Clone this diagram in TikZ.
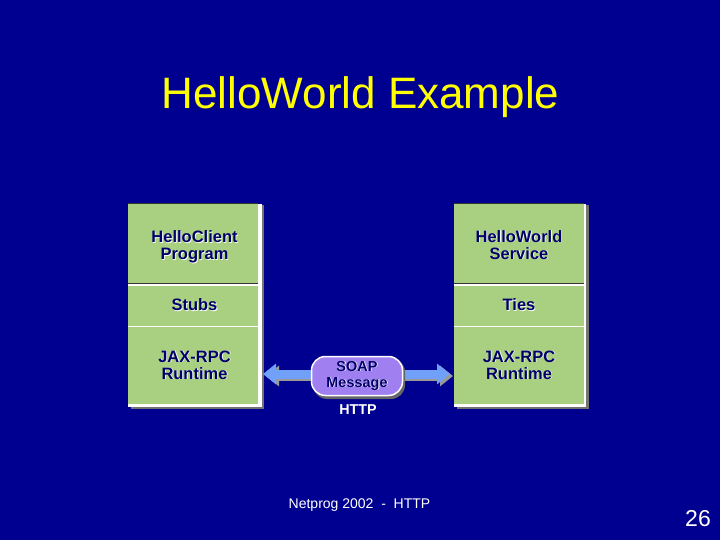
\documentclass[tikz,border=0pt]{standalone}
\usepackage{fontspec}
\setmainfont{Liberation Sans}
\usepackage{xcolor}
\usetikzlibrary{positioning}
\usetikzlibrary{calc}
\usetikzlibrary{arrows.meta}

\definecolor{slidebg}{HTML}{000090}
\definecolor{layergreen}{HTML}{A8D080}
\definecolor{msgpurple}{HTML}{A080F0}
\definecolor{arrowblue}{HTML}{70A0F8}
\definecolor{inknavy}{HTML}{000068}
\definecolor{titleyellow}{HTML}{FFFF00}

\newcommand{\glowtext}[1]{\rlap{\raisebox{-0.8pt}{\hspace{0.8pt}\textcolor{white}{#1}}}#1}
\newcommand{\glowtextl}[1]{\hspace*{3pt}\glowtext{#1}}

\tikzset{
layer/.style={fill=layergreen, text=inknavy, minimum width=130pt, inner sep=0pt, outer sep=0pt, align=center, font=\fontsize{16.5}{17}\selectfont\bfseries},
msgarrow/.style={draw=arrowblue, line width=9pt, -{Triangle[length=13pt, width=20pt]}},
msgshadow/.style={draw=black!40, line width=9pt, -{Triangle[length=13pt, width=20pt]}},
}

\begin{document}
\begin{tikzpicture}[x=1pt, y=-1pt]

\useasboundingbox[fill=slidebg] (0,0) rectangle (720,540);

\node (title) [text=titleyellow, font=\fontsize{44}{48}\selectfont] at (360.5,97) {HelloWorld Example};

% left stack
\fill [black!55] (131,205) rectangle (264,409);
\fill [white] (128,204) rectangle (261.5,406.5);
\node (client) [layer, anchor=north west, minimum height=79pt] at (128,203.5) {\rule{0pt}{20pt}\glowtextl{HelloClient}\\\glowtextl{Program}};
\node (stubs) [layer, minimum height=40pt, below=3pt of client] {\glowtextl{Stubs}};
\node (clientrt) [layer, minimum height=76.5pt, below=1.5pt of stubs] {\glowtextl{JAX-RPC}\\\glowtextl{Runtime}};
\draw [black!80, line width=1.5pt] (client.north west) -- (client.north east);
\draw [black!80, line width=1.5pt] ($(client.south west)+(0,0.8)$) -- ($(client.south east)+(0,0.8)$);

% right stack
\fill [black!55] (457,205) rectangle (589,409);
\fill [white] (454,204) rectangle (586,406.5);
\node (service) [layer, anchor=north west, minimum height=79pt] at (454,203.5) {\rule{0pt}{16pt}\glowtext{HelloWorld}\\\glowtext{Service}};
\node (ties) [layer, minimum height=40pt, below=3pt of service] {\glowtext{Ties}};
\node (servicert) [layer, minimum height=76.5pt, below=1.5pt of ties] {\glowtext{JAX-RPC}\\\glowtext{Runtime}};
\draw [black!80, line width=1.5pt] (service.north west) -- (service.north east);
\draw [black!80, line width=1.5pt] ($(service.south west)+(0,0.8)$) -- ($(service.south east)+(0,0.8)$);

% message
\coordinate (soapc) at (357,374);
\coordinate (tipl) at (263,374);
\coordinate (tipr) at (450,374);
\draw [msgshadow] ($(soapc)+(0,2)$) -- ($(tipl)+(3,2)$);
\draw [msgshadow] ($(soapc)+(0,2)$) -- ($(tipr)+(3,2)$);
\draw [msgarrow] (soapc) -- (tipl);
\draw [msgarrow] (soapc) -- (tipr);
\fill [black!60, rounded corners=14pt] (313,358) rectangle (405,399);
\node (soap) [fill=msgpurple, draw=white, line width=1.5pt, rounded corners=14pt, minimum width=91pt, minimum height=39pt, inner sep=0pt, align=center, text=inknavy, font=\fontsize{14.5}{16}\selectfont\bfseries] at (357,376) {\glowtext{SOAP}\\\glowtext{Message}};
\node (httplbl) [text=white, font=\fontsize{14.3}{15}\selectfont\bfseries] at (358,410) {HTTP};

\node (footer) [text=white, font=\fontsize{14}{15}\selectfont] at (359.5,505.5) {Netprog 2002\ \ -\ \ HTTP};
\node (pagenum) [text=white, font=\fontsize{23}{26}\selectfont] at (698,519) {26};

\end{tikzpicture}
\end{document}
